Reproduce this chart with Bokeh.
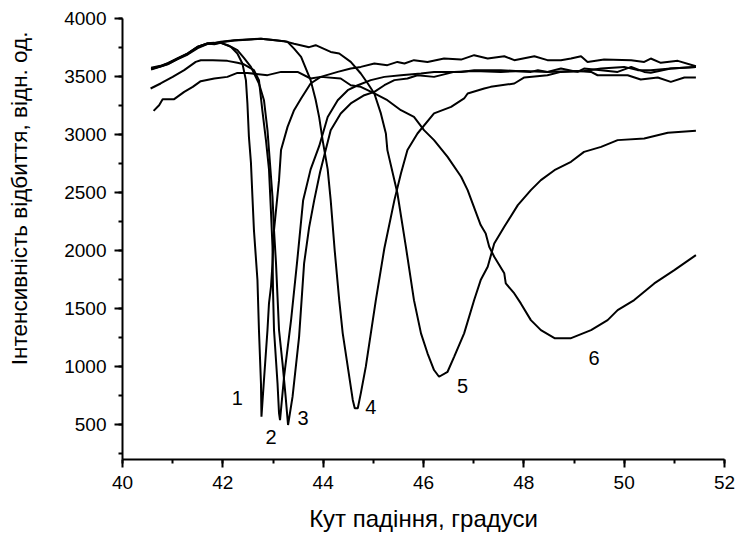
import math
from bokeh.plotting import figure
from bokeh.models import Range1d, SingleIntervalTicker, LinearAxis, FixedTicker
from bokeh.core.properties import value
from bokeh.embed import file_html
from bokeh.resources import INLINE

# ---- data ----
x1 = [40.57, 40.76, 40.90, 41.10, 41.30, 41.50, 41.69, 41.83, 41.96, 42.16, 42.29, 42.39, 42.46, 42.49,
      42.52, 42.56, 42.59, 42.62, 42.69, 42.72, 42.76, 42.77, 42.82, 42.89, 42.92, 42.96, 42.99, 43.02,
      43.12, 43.16, 43.29, 43.42, 43.56, 43.75, 43.95, 44.29, 44.55, 44.75, 45.02, 45.28, 45.48, 45.62,
      45.81, 46.08, 46.41, 46.75, 47.01, 47.28, 47.61, 47.81, 48.21, 48.47, 48.74, 48.94, 49.14, 49.27,
      49.60, 50.14, 50.40, 50.53, 50.73, 51.07, 51.43]
y1 = [3569, 3589, 3612, 3655, 3698, 3756, 3784, 3779, 3790, 3756, 3698, 3612, 3469, 3268,
      2980, 2760, 2464, 2177, 1747, 1316, 857, 569, 885, 1316, 1546, 1689, 1890, 2177,
      2607, 2866, 3066, 3210, 3311, 3440, 3497, 3540, 3569, 3583, 3612, 3598, 3626, 3612,
      3641, 3626, 3655, 3646, 3684, 3655, 3675, 3641, 3675, 3641, 3641, 3655, 3675, 3626,
      3646, 3641, 3626, 3655, 3618, 3635, 3589]

x2 = [40.56, 40.76, 41.00, 41.23, 41.46, 41.56, 41.80, 42.09, 42.29, 42.42, 42.62, 42.72, 42.79, 42.86,
      42.92, 42.96, 42.99, 43.00, 43.02, 43.09, 43.12, 43.14, 43.22, 43.36, 43.48, 43.60, 43.75, 43.92,
      44.09, 44.29, 44.49, 44.69, 44.95, 45.22, 45.55, 45.95, 46.21, 46.75, 47.01, 47.54, 48.14, 48.28,
      48.47, 48.74, 49.07, 49.20, 49.54, 49.87, 50.14, 50.40, 50.53, 50.93, 51.43]
y2 = [3397, 3440, 3497, 3555, 3626, 3640, 3640, 3635, 3618, 3605, 3555, 3469, 3200, 2950,
      2700, 2330, 2033, 1660, 1316, 857, 600, 540, 911, 1400, 1900, 2431, 2700, 2900,
      3152, 3296, 3382, 3425, 3469, 3497, 3511, 3526, 3540, 3540, 3555, 3555, 3540, 3555,
      3540, 3569, 3540, 3569, 3555, 3540, 3583, 3540, 3533, 3569, 3583]

x3 = [40.57, 40.76, 40.90, 41.10, 41.30, 41.50, 41.69, 41.83, 41.96, 42.10, 42.29, 42.42, 42.56, 42.72,
      42.82, 42.89, 42.92, 42.99, 43.02, 43.06, 43.09, 43.12, 43.19, 43.25, 43.30, 43.39, 43.52, 43.62,
      43.72, 43.82, 43.94, 44.05, 44.15, 44.35, 44.55, 44.82, 45.02, 45.22, 45.42, 45.68, 45.88, 46.21,
      46.61, 47.01, 47.54, 48.00, 48.47, 49.07, 49.34, 49.47, 50.07, 50.33, 50.67, 50.93, 51.20, 51.43]
y3 = [3560, 3585, 3605, 3650, 3690, 3745, 3780, 3784, 3790, 3770, 3727, 3660, 3583, 3440,
      3296, 3038, 2866, 2464, 2177, 1890, 1602, 1316, 1029, 750, 497, 741, 1257, 1890,
      2200, 2431, 2680, 2866, 3038, 3182, 3268, 3339, 3368, 3425, 3469, 3483, 3511, 3497,
      3540, 3548, 3540, 3548, 3540, 3548, 3540, 3511, 3511, 3474, 3492, 3454, 3492, 3492]

x4 = [40.57, 40.76, 40.90, 41.10, 41.30, 41.50, 41.69, 41.83, 41.96, 42.23, 42.56, 42.76, 43.00, 43.29,
      43.42, 43.56, 43.75, 43.85, 43.92, 43.99, 44.09, 44.15, 44.23, 44.32, 44.39, 44.49, 44.59, 44.63,
      44.69, 44.75, 44.85, 44.95, 45.05, 45.22, 45.42, 45.55, 45.68, 45.88, 46.21, 46.55, 46.81, 46.88,
      47.21, 47.34, 47.81, 48.01, 48.47, 48.74, 49.20, 49.54, 50.00, 50.27, 50.53, 50.93, 51.43]
y4 = [3575, 3592, 3615, 3658, 3700, 3758, 3786, 3790, 3800, 3812, 3822, 3825, 3815, 3799,
      3740, 3669, 3469, 3300, 3150, 2950, 2700, 2435, 2000, 1573, 1287, 1000, 713, 641,
      641, 770, 1000, 1287, 1574, 2020, 2435, 2665, 2866, 3009, 3182, 3239, 3311, 3354,
      3397, 3411, 3440, 3492, 3511, 3540, 3548, 3569, 3583, 3555, 3555, 3569, 3583]

x5 = [40.57, 40.76, 40.90, 41.10, 41.30, 41.50, 41.69, 41.83, 41.96, 42.23, 42.56, 42.76, 43.00, 43.22,
      43.42, 43.72, 43.85, 44.15, 44.32, 44.55, 44.75, 44.89, 45.02, 45.15, 45.25, 45.28, 45.48, 45.65,
      45.81, 45.95, 46.08, 46.21, 46.31, 46.48, 46.61, 46.81, 47.01, 47.14, 47.28, 47.41, 47.61, 47.88,
      48.14, 48.34, 48.61, 48.94, 49.20, 49.54, 49.87, 50.40, 50.87, 51.43]
y5 = [3565, 3588, 3608, 3652, 3695, 3752, 3782, 3786, 3795, 3810, 3820, 3825, 3815, 3805,
      3782, 3753, 3770, 3712, 3698, 3626, 3526, 3440, 3354, 3182, 3009, 2866, 2494, 2030,
      1573, 1287, 1115, 971, 913, 956, 1085, 1287, 1574, 1746, 1861, 2062, 2205, 2392,
      2521, 2607, 2693, 2765, 2851, 2894, 2952, 2966, 3015, 3032]

x6 = [40.62, 40.73, 40.80, 41.03, 41.23, 41.40, 41.56, 41.83, 42.09, 42.29, 42.49, 42.89, 43.16, 43.49,
      43.75, 43.95, 44.35, 44.55, 44.75, 45.02, 45.28, 45.55, 45.81, 46.01, 46.21, 46.48, 46.75, 46.88,
      47.14, 47.24, 47.31, 47.41, 47.61, 47.64, 47.81, 47.94, 48.14, 48.34, 48.62, 48.93, 49.34, 49.67,
      49.87, 50.20, 50.60, 51.00, 51.43]
y6 = [3204, 3253, 3305, 3305, 3368, 3411, 3460, 3483, 3497, 3531, 3531, 3512, 3540, 3540,
      3483, 3497, 3483, 3425, 3411, 3354, 3296, 3210, 3152, 3038, 2952, 2808, 2636, 2521,
      2220, 2148, 2033, 1947, 1804, 1717, 1631, 1545, 1401, 1315, 1244, 1244, 1315, 1401,
      1487, 1574, 1717, 1832, 1961]

label_text = ["1", "2", "3", "4", "5", "6"]
label_x = [42.29, 42.96, 43.60, 44.95, 46.78, 49.40]
label_y = [730, 396, 555, 650, 833, 1071]

x_title = "Кут падіння, градуси"
y_title = "Інтенсивність відбиття, відн. од."

FONT = "Liberation Sans"

p = figure(width=737, height=537, x_range=Range1d(40, 52), y_range=Range1d(200, 4000),
           output_backend="svg", toolbar_location=None,
           min_border_left=122, min_border_right=13, min_border_top=18, min_border_bottom=78)
p.outline_line_color = None
p.xgrid.visible = False
p.ygrid.visible = False
p.background_fill_color = "white"
p.border_fill_color = "white"

for ax in (p.xaxis[0], p.yaxis[0]):
    ax.axis_line_width = 2
    ax.axis_line_color = "black"
    ax.major_tick_line_width = 2
    ax.minor_tick_line_width = 2
    ax.major_tick_line_color = "black"
    ax.minor_tick_line_color = "black"
    ax.major_tick_in = 0
    ax.major_tick_out = 8
    ax.minor_tick_in = 0
    ax.minor_tick_out = 4
    ax.major_label_text_font = FONT
    ax.major_label_text_font_size = "19px"
    ax.major_label_text_color = "black"
    ax.major_label_standoff = 8

p.xaxis.ticker = SingleIntervalTicker(interval=2, num_minor_ticks=2)
p.yaxis.ticker = SingleIntervalTicker(interval=500, num_minor_ticks=2)
p.xaxis.axis_label = x_title
p.xaxis.axis_label_text_font = FONT
p.xaxis.axis_label_text_font_size = "24px"
p.xaxis.axis_label_text_font_style = "normal"
p.xaxis.axis_label_text_color = "black"
p.xaxis.axis_label_standoff = 13

# separate, tick-less axis that only carries the y title; leading no-break spaces
# lift the visible text towards the top as in the reference
title_axis = LinearAxis(ticker=FixedTicker(ticks=[]),
                        axis_line_color=None, major_tick_line_color=None, minor_tick_line_color=None,
                        major_tick_out=0, minor_tick_out=0, major_label_standoff=0,
                        axis_label="\u00a0" * 13 + y_title, axis_label_standoff=30,
                        axis_label_text_font=FONT, axis_label_text_font_size="22.5px",
                        axis_label_text_font_style="normal", axis_label_text_color="black")
p.add_layout(title_axis, "left")

for xs, ys in [(x1, y1), (x2, y2), (x3, y3), (x4, y4), (x5, y5), (x6, y6)]:
    p.line(xs, ys, line_color="black", line_width=2)

p.text(x=label_x, y=label_y, text=label_text, text_align="center", text_baseline="middle",
       text_font=value(FONT), text_font_size="20px", text_color="black")

open("out.html", "w").write(file_html(p, INLINE))
